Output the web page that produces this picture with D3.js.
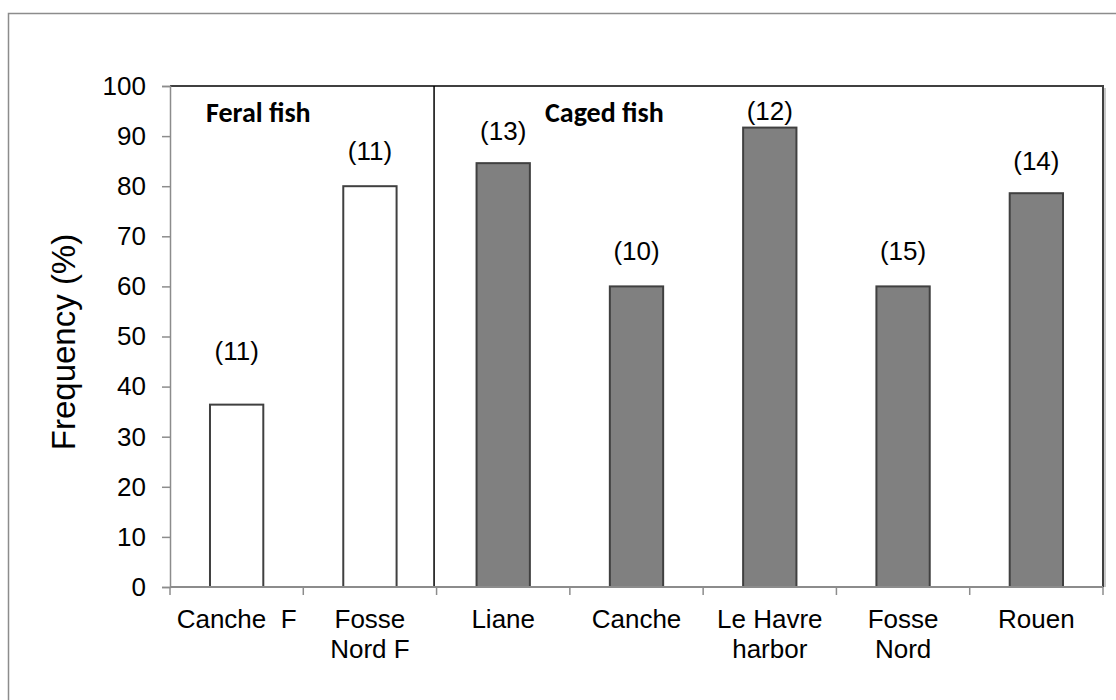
<!DOCTYPE html>
<html>
<head>
<meta charset="utf-8">
<script src="https://cdn.jsdelivr.net/npm/d3@7"></script>
<style>
  body { margin: 0; background: #fff; }
  text { font-family: "Liberation Sans", Arial, sans-serif; fill: #000; white-space: pre; }
  .group-title { font-family: Carlito, Lato, sans-serif; font-weight: bold; }
</style>
</head>
<body>
<div id="chart"></div>
<script>
// data
const sites = ["Canche  F", "Fosse\nNord F", "Liane", "Canche", "Le Havre\nharbor", "Fosse\nNord", "Rouen"];
const frequency = [36.4, 80, 84.6, 60, 91.7, 60, 78.6];
const sampleSize = [11, 11, 13, 10, 12, 15, 14];
const fishType = ["feral", "feral", "caged", "caged", "caged", "caged", "caged"];
const yTicks = [0, 10, 20, 30, 40, 50, 60, 70, 80, 90, 100];

// how far above each bar the (n) label sits, in % units (hand placed in the original)
const nLabelLift = [8.9, 5.2, 4.6, 5.3, 1.5, 5.3, 4.6];

const width = 1116, height = 700;
const margin = { top: 86, right: 13, bottom: 113, left: 170 };

const svg = d3.select("#chart").append("svg")
  .attr("width", width)
  .attr("height", height);

// outer chart frame (only top & left edges fall inside the picture)
svg.append("path")
  .attr("d", `M8.5,${height} V13.5 H${width}`)
  .attr("fill", "none")
  .attr("stroke", "#8c8c8c")
  .attr("stroke-width", 1.5);

const x = d3.scaleBand()
  .domain(d3.range(sites.length))
  .range([margin.left, width - margin.right])
  .paddingInner(0.6)
  .paddingOuter(0.3);

const y = d3.scaleLinear()
  .domain([0, 100])
  .range([height - margin.bottom, margin.top]);

const step = x.step();

// plot frame: top and right edges dark, with a light shadow on the right
svg.append("line")
  .attr("x1", width - margin.right + 2).attr("x2", width - margin.right + 2)
  .attr("y1", y(100) + 2).attr("y2", y(0))
  .attr("stroke", "#c8c8c8")
  .attr("stroke-width", 2);
svg.append("path")
  .attr("d", `M${margin.left},${y(100)} H${width - margin.right} V${y(0)}`)
  .attr("fill", "none")
  .attr("stroke", "#404040")
  .attr("stroke-width", 2);

// bars
svg.append("g")
  .selectAll("rect")
  .data(frequency)
  .join("rect")
  .attr("x", (d, i) => x(i))
  .attr("y", d => y(d))
  .attr("width", x.bandwidth())
  .attr("height", d => y(0) - y(d))
  .attr("fill", (d, i) => fishType[i] === "feral" ? "#ffffff" : "#808080")
  .attr("stroke", "#404040")
  .attr("stroke-width", 2);

// separator between feral and caged groups
const firstCaged = fishType.indexOf("caged");
svg.append("line")
  .attr("x1", x(firstCaged) - x.paddingOuter() * step - 2.5)
  .attr("x2", x(firstCaged) - x.paddingOuter() * step - 2.5)
  .attr("y1", y(100))
  .attr("y2", y(0))
  .attr("stroke", "#000")
  .attr("stroke-width", 1.5);

// y axis
const yAxis = svg.append("g")
  .attr("transform", `translate(${margin.left},0)`)
  .call(d3.axisLeft(y).tickValues(yTicks).tickSize(8).tickPadding(16));
yAxis.select(".domain").attr("stroke", "#8c8c8c").attr("stroke-width", 1.5);
yAxis.selectAll(".tick line").attr("stroke", "#8c8c8c").attr("stroke-width", 1.5);
yAxis.selectAll(".tick text")
  .attr("font-size", 26)
  .attr("font-family", "Liberation Sans, Arial, sans-serif")
  .attr("fill", "#000");

// x axis line and category boundary ticks
const xAxis = svg.append("g");
xAxis.append("line")
  .attr("x1", margin.left).attr("x2", width - margin.right)
  .attr("y1", y(0)).attr("y2", y(0))
  .attr("stroke", "#8c8c8c")
  .attr("stroke-width", 2);
xAxis.selectAll("line.tick")
  .data(d3.range(sites.length + 1))
  .join("line")
  .attr("class", "tick")
  .attr("x1", i => margin.left + i * step)
  .attr("x2", i => margin.left + i * step)
  .attr("y1", y(0))
  .attr("y2", y(0) + 8)
  .attr("stroke", "#8c8c8c")
  .attr("stroke-width", 1.5);

// category labels
const catLabels = xAxis.selectAll("text.cat")
  .data(sites)
  .join("text")
  .attr("class", "cat")
  .attr("text-anchor", "middle")
  .attr("font-size", 26)
  .attr("x", (d, i) => x(i) + x.bandwidth() / 2)
  .attr("y", y(0) + 41);
catLabels.selectAll("tspan")
  .data(d => d.split("\n"))
  .join("tspan")
  .attr("x", function () { return this.parentNode.getAttribute("x"); })
  .attr("dy", (d, i) => i === 0 ? 0 : 30)
  .text(d => d);

// sample size labels
svg.append("g")
  .selectAll("text")
  .data(sampleSize)
  .join("text")
  .attr("text-anchor", "middle")
  .attr("font-size", 26)
  .attr("x", (d, i) => x(i) + x.bandwidth() / 2)
  .attr("y", (d, i) => y(frequency[i] + nLabelLift[i]))
  .text(d => `(${d})`);

// group titles
svg.append("text")
  .attr("class", "group-title")
  .attr("font-size", 28)
  .attr("x", 206)
  .attr("y", 122)
  .text("Feral fish");

svg.append("text")
  .attr("class", "group-title")
  .attr("font-size", 28)
  .attr("x", 545)
  .attr("y", 122)
  .text("Caged fish");

// y axis title
svg.append("text")
  .attr("transform", `translate(75,342) rotate(-90)`)
  .attr("text-anchor", "middle")
  .attr("font-size", 33)
  .text("Frequency (%)");
</script>
</body>
</html>
